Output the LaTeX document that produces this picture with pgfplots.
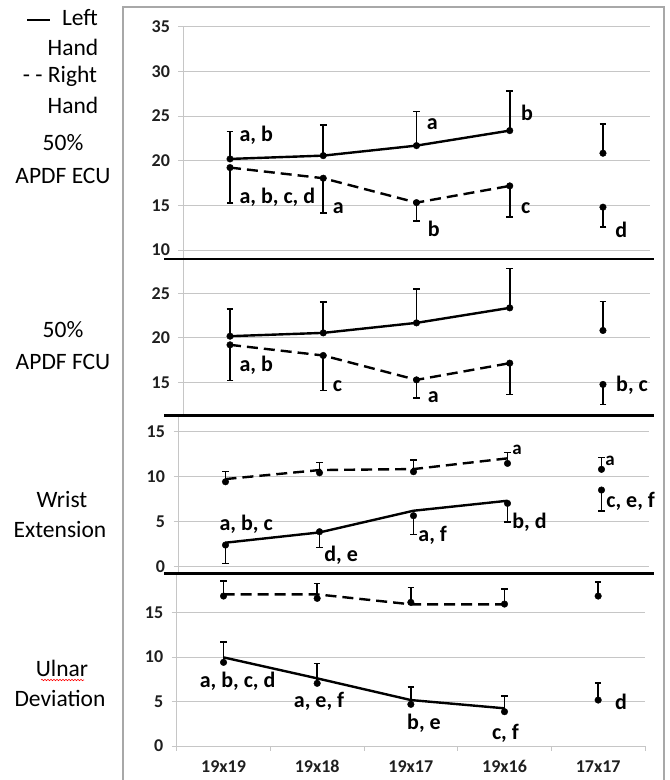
\documentclass[border=0pt]{standalone}
\usepackage{pgfplots}
\pgfplotsset{compat=1.18}
\usepackage{fontspec}
\setmainfont{Carlito}
\usetikzlibrary{decorations.pathmorphing}
\definecolor{gridgray}{HTML}{C6C6C6}
\definecolor{framegray}{HTML}{A8A8A8}
\newcommand{\annf}{\bfseries\fontsize{22bp}{22bp}\selectfont}
\newcommand{\annsmall}{\bfseries\fontsize{19bp}{19bp}\selectfont}
\newcommand{\lblf}{\fontsize{23.5bp}{23.5bp}\selectfont}
\pgfplotsset{
  panel/.style={
    scale only axis, clip=false,
    xmin=-0.5, xmax=4.5,
    axis y line*=left,
    axis line style={draw=gridgray, line width=1bp, -},
    ymajorgrids, grid style={draw=gridgray, line width=1bp},
    tick align=outside, major tick length=5bp,
    tick style={draw=gridgray, line width=1bp},
    /pgf/number format/assume math mode=true,
    yticklabel style={font=\bfseries\fontsize{18bp}{18bp}\selectfont, text=black!88, xshift=-5bp},
  },
  nox/.style={axis x line=none},
  lineL/.style={black, line width=2.4bp, no marks, solid},
  lineR/.style={black, line width=2.4bp, no marks, dash pattern=on 11bp off 6bp},
  dots/.style={only marks, mark=*, mark size=3.3bp, black, mark options={solid, fill=black},
    error bars/.cd, y dir=#1, y explicit,
    error bar style={line width=1.6bp, black, solid},
    error mark options={mark size=3.3bp, line width=1.6bp, black, solid, rotate=90}},
}
\begin{document}
\begin{tikzpicture}
\path[use as bounding box] (0,0) rectangle (670bp,780bp);
% frame
\draw[framegray, line width=1.4bp] (123bp,0bp) -- (123bp,773bp) -- (664bp,773bp) -- (664bp,0bp);

% ---------- Panel 1: 50% APDF ECU ----------
\begin{axis}[panel, nox, at={(183.4bp,521bp)}, anchor=south west,
  width=466.2bp, height=232.3bp, ymin=9, ymax=35, ytick={10,15,20,25,30,35}]
\addplot[lineL] coordinates {(0,20.2) (1,20.57) (2,21.69) (3,23.37)};
\addplot[lineR] coordinates {(0,19.23) (1,18.04) (2,15.31) (3,17.18)};
\addplot[dots=plus] table[x=x,y=y,y error=e] {
x y e
0 20.20 3.06
1 20.57 3.43
2 21.69 3.81
3 23.37 4.40
4 20.84 3.24
};
\addplot[dots=minus] table[x=x,y=y,y error=e] {
x y e
0 19.23 3.98
1 18.04 3.91
2 15.31 2.04
3 17.18 3.50
4 14.80 2.24
};
\node[anchor=west, inner sep=0, font=\annf] at (axis cs:0.10,22.8) {a, b};
\node[anchor=west, inner sep=0, font=\annf] at (axis cs:0.10,15.87) {a, b, c, d};
\node[anchor=west, inner sep=0, font=\annf] at (axis cs:1.10,14.69) {a};
\node[anchor=west, inner sep=0, font=\annf] at (axis cs:2.11,24.12) {a};
\node[anchor=west, inner sep=0, font=\annf] at (axis cs:2.12,12.37) {b};
\node[anchor=west, inner sep=0, font=\annf] at (axis cs:3.12,25.3) {b};
\node[anchor=west, inner sep=0, font=\annf] at (axis cs:3.12,14.69) {c};
\node[anchor=west, inner sep=0, font=\annf] at (axis cs:4.13,12.26) {d};
\end{axis}

% ---------- Panel 2: 50% APDF FCU ----------
\begin{axis}[panel, nox, at={(183.4bp,364.3bp)}, anchor=south west,
  width=466.2bp, height=156.7bp, ymin=11.3, ymax=28.84, ytick={15,20,25}]
\addplot[lineL] coordinates {(0,20.2) (1,20.57) (2,21.69) (3,23.37)};
\addplot[lineR] coordinates {(0,19.23) (1,18.04) (2,15.31) (3,17.18)};
\addplot[dots=plus] table[x=x,y=y,y error=e] {
x y e
0 20.20 3.06
1 20.57 3.43
2 21.69 3.81
3 23.37 4.40
4 20.84 3.24
};
\addplot[dots=minus] table[x=x,y=y,y error=e] {
x y e
0 19.23 3.98
1 18.04 3.91
2 15.31 2.04
3 17.18 3.50
4 14.80 2.24
};
\node[anchor=west, inner sep=0, font=\annf] at (axis cs:0.10,17.0) {a, b};
\node[anchor=west, inner sep=0, font=\annf] at (axis cs:1.10,14.66) {c};
\node[anchor=west, inner sep=0, font=\annf] at (axis cs:2.12,13.35) {a};
\node[anchor=west, inner sep=0, font=\annf] at (axis cs:4.14,14.66) {b, c};
\end{axis}

% ---------- Panel 3: Wrist Extension ----------
\begin{axis}[panel, nox, at={(178.5bp,206.7bp)}, anchor=south west,
  width=470bp, height=157.6bp, ymin=-0.73, ymax=16.78, ytick={0,5,10,15}]
\addplot[lineL] coordinates {(0,2.67) (1,3.81) (2,6.22) (3,7.33)};
\addplot[lineR] coordinates {(0,9.74) (1,10.74) (2,10.85) (3,12.04)};
\addplot[dots=minus] table[x=x,y=y,y error=e] {
x y e
0 2.41 2.04
1 3.89 1.74
2 5.67 2.08
3 7.04 2.04
4 8.52 2.30
};
\addplot[dots=plus] table[x=x,y=y,y error=e] {
x y e
0 9.44 1.12
1 10.44 1.12
2 10.56 1.29
3 11.48 1.19
4 10.82 1.33
};
\node[anchor=center, inner sep=0, font=\annf] at (axis cs:0.22,4.71) {a, b, c};
\node[anchor=west, inner sep=0, font=\annf] at (axis cs:1.05,1.22) {d, e};
\node[anchor=west, inner sep=0, font=\annf] at (axis cs:2.05,3.52) {a, f};
\node[anchor=west, inner sep=0, font=\annf] at (axis cs:3.05,4.93) {b, d};
\node[anchor=west, inner sep=0, font=\annsmall] at (axis cs:3.05,12.97) {a};
\node[anchor=west, inner sep=0, font=\annsmall] at (axis cs:4.04,11.78) {a};
\node[anchor=west, inner sep=0, font=\annf] at (axis cs:4.05,7.22) {c, e, f};
\end{axis}

% ---------- Panel 4: Ulnar Deviation ----------
\begin{axis}[panel, at={(176.7bp,34bp)}, anchor=south west,
  width=468.3bp, height=172.7bp, ymin=0, ymax=19.43, ytick={0,5,10,15},
  axis x line*=bottom,
  xtick={0,1,2,3,4}, xticklabels={19x19,19x18,19x17,19x16,17x17},
  major x tick style={draw=none},
  minor xtick={-0.5,0.5,1.5,2.5,3.5,4.5}, minor tick length=5bp,
  minor x tick style={draw=gridgray, line width=1bp},
  xticklabel style={font=\bfseries\fontsize{18bp}{18bp}\selectfont, text=black!88, anchor=north, yshift=-6bp}]
\addplot[lineL] coordinates {(0,9.97) (1,7.61) (2,5.17) (3,4.24)};
\addplot[lineR] coordinates {(0,17.06) (1,17.06) (2,15.94) (3,15.94)};
\addplot[dots=plus] table[x=x,y=y,y error=e] {
x y e
0 9.41 2.32
1 7.05 2.25
2 4.69 1.98
3 3.86 1.76
4 5.17 1.95
};
\addplot[dots=plus] table[x=x,y=y,y error=e] {
x y e
0 16.87 1.69
1 16.61 1.69
2 16.16 1.65
3 15.97 1.69
4 16.87 1.61
};
\node[anchor=center, inner sep=0, font=\annf] at (axis cs:0.15,7.23) {a, b, c, d};
\node[anchor=center, inner sep=0, font=\annf] at (axis cs:1.02,4.98) {a, e, f};
\node[anchor=center, inner sep=0, font=\annf] at (axis cs:2.14,2.55) {b, e};
\node[anchor=center, inner sep=0, font=\annf] at (axis cs:3.01,1.43) {c, f};
\node[anchor=west, inner sep=0, font=\annf] at (axis cs:4.18,4.98) {d};
\end{axis}

% separators
\draw[black, line width=2.8bp] (164bp,521bp) -- (654bp,521bp);
\draw[black, line width=2.8bp] (164bp,364.3bp) -- (654bp,364.3bp);
\draw[black, line width=2.8bp] (164bp,206.7bp) -- (654bp,206.7bp);

% left labels
\draw[black, line width=2.6bp] (27bp,760bp) -- (50bp,760bp);
\node[font=\lblf, inner sep=0] at (80bp,762bp) {Left};
\node[font=\lblf, inner sep=0] at (73bp,733bp) {Hand};
\node[font=\lblf, inner sep=0] at (60bp,704bp) {- - Right};
\node[font=\lblf, inner sep=0] at (73bp,675bp) {Hand};
\node[font=\lblf, inner sep=0] at (63bp,637bp) {50\%};
\node[font=\lblf, inner sep=0] at (63bp,604bp) {APDF ECU};
\node[font=\lblf, inner sep=0] at (63bp,450bp) {50\%};
\node[font=\lblf, inner sep=0] at (63bp,418bp) {APDF FCU};
\node[font=\lblf, inner sep=0] at (62bp,280bp) {Wrist};
\node[font=\lblf, inner sep=0] at (60bp,250bp) {Extension};
\node[font=\lblf, inner sep=0] at (62bp,112bp) {Ulnar};
\node[font=\lblf, inner sep=0] at (60bp,82bp) {Deviation};
\draw[red, line width=0.6bp, decorate, decoration={snake, amplitude=0.7bp, segment length=3bp}] (41bp,100bp) -- (84bp,100bp);
\end{tikzpicture}
\end{document}
